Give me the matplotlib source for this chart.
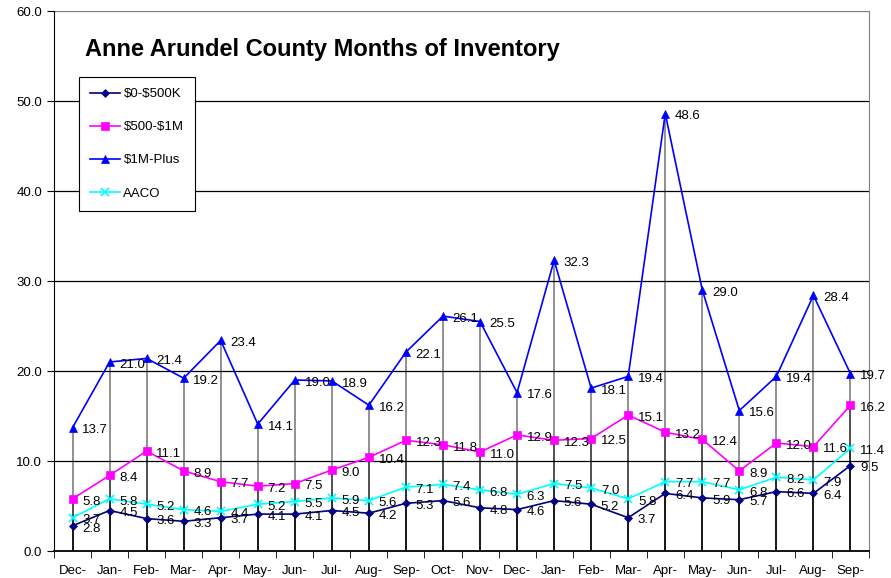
import numpy as np
import matplotlib
matplotlib.use('Agg')
import matplotlib.pyplot as plt

plt.rcParams['font.family'] = ['Liberation Sans', 'DejaVu Sans']

# Months along the category axis
months = ['Dec-', 'Jan-', 'Feb-', 'Mar-', 'Apr-', 'May-', 'Jun-', 'Jul-', 'Aug-', 'Sep-', 'Oct-',
          'Nov-', 'Dec-', 'Jan-', 'Feb-', 'Mar-', 'Apr-', 'May-', 'Jun-', 'Jul-', 'Aug-', 'Sep-']

# Months of inventory per price band
low = [2.8, 4.5, 3.6, 3.3, 3.7, 4.1, 4.1, 4.5, 4.2, 5.3, 5.6,
       4.8, 4.6, 5.6, 5.2, 3.7, 6.4, 5.9, 5.7, 6.6, 6.4, 9.5]
mid = [5.8, 8.4, 11.1, 8.9, 7.7, 7.2, 7.5, 9.0, 10.4, 12.3, 11.8,
       11.0, 12.9, 12.3, 12.5, 15.1, 13.2, 12.4, 8.9, 12.0, 11.6, 16.2]
high = [13.7, 21.0, 21.4, 19.2, 23.4, 14.1, 19.0, 18.9, 16.2, 22.1, 26.1,
        25.5, 17.6, 32.3, 18.1, 19.4, 48.6, 29.0, 15.6, 19.4, 28.4, 19.7]
aaco = [3.7, 5.8, 5.2, 4.6, 4.4, 5.2, 5.5, 5.9, 5.6, 7.1, 7.4,
        6.8, 6.3, 7.5, 7.0, 5.8, 7.7, 7.7, 6.8, 8.2, 7.9, 11.4]

series = [
    (r'\$0-\$500K', low, '#000080', 'D', 4),
    (r'\$500-\$1M', mid, '#FF00FF', 's', 6),
    (r'\$1M-Plus', high, '#0000FF', '^', 6),
    ('AACO', aaco, '#00FFFF', 'x', 6),
]

fig = plt.figure(figsize=(8.91, 5.78), dpi=100)
ax = fig.add_axes([54 / 891, 1 - 551 / 578, 815 / 891, 540 / 578])
x = np.arange(len(months))

# gridlines
for g in range(10, 61, 10):
    ax.axhline(g, color='black' if g < 60 else '#808080', lw=0.9, zorder=1)

# drop lines from each point down to the axis
for name, vals, color, mk, ms in series:
    ax.vlines(x, 0, vals, color='black', lw=1.1, alpha=0.55, zorder=2)

for name, vals, color, mk, ms in series:
    ax.plot(x, vals, color=color, marker=mk, markersize=ms, lw=1.2,
            markeredgewidth=1.2 if mk == 'x' else 0.5, label=name, zorder=3)
    for xi, v in zip(x, vals):
        ax.annotate(f'{v:.1f}', (xi, v), xytext=(7, -2), textcoords='offset points',
                    ha='left', va='center', fontsize=9.5, zorder=4)

ax.set_xlim(-0.5, len(months) - 0.5)
ax.set_ylim(0, 60)
ax.set_yticks(range(0, 61, 10))
ax.set_yticklabels([f'{t:.1f}' for t in range(0, 61, 10)], fontsize=9.5)
ax.set_xticks(x)
ax.set_xticklabels(months, fontsize=9.5)
ax.set_xticks(np.arange(-0.5, len(months), 1), minor=True)
ax.tick_params(axis='x', which='major', length=0, pad=10)
ax.tick_params(axis='x', which='minor', length=5, direction='out')
ax.tick_params(axis='y', length=5, direction='out')
ax.spines['top'].set_visible(False)
ax.spines['right'].set_color('#808080')
ax.spines['left'].set_color('black')
ax.spines['bottom'].set_color('black')
ax.spines['bottom'].set_linewidth(1.3)

ax.text(0.038, 0.928, 'Anne Arundel County Months of Inventory', transform=ax.transAxes,
        fontsize=17, fontweight='bold', ha='left', va='center')

leg = ax.legend(loc='upper left', bbox_to_anchor=(0.031, 0.878), borderaxespad=0,
                fontsize=9.5, labelspacing=1.58, handlelength=2.2, handletextpad=0.3,
                borderpad=0.85, fancybox=False, framealpha=1)
leg.get_frame().set_edgecolor('black')
leg.get_frame().set_linewidth(0.8)

fig.savefig('out.png', dpi=100)
